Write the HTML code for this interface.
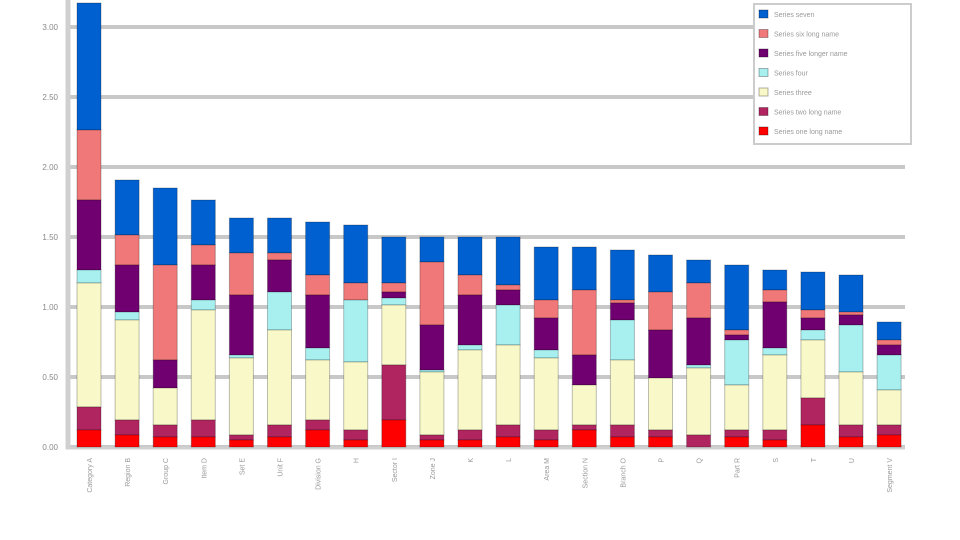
<!DOCTYPE html>
<html><head><meta charset="utf-8"><style>
html,body{margin:0;padding:0;background:#fff;width:960px;height:540px;overflow:hidden}
svg{display:block;font-family:"Liberation Sans",sans-serif}
</style></head><body>
<svg id="c" width="960" height="540" xmlns="http://www.w3.org/2000/svg"></svg>
<script>
var s=document.getElementById('c'),h='';
var base=447,top0=27;
var labs=['0.00','0.50','1.00','1.50','2.00','2.50','3.00'];
for(var i=0;i<7;i++){var y=base-i*(base-top0)/6;
 h+='<line x1="66" x2="905" y1="'+y+'" y2="'+y+'" stroke="#c8c8c8" stroke-width="4"/>';
 h+='<text x="58" y="'+(y+3)+'" font-size="8" fill="#888" text-anchor="end">'+labs[i]+'</text>';}
h+='<line x1="68" x2="68" y1="0" y2="'+(base+2)+'" stroke="#d0d0d0" stroke-width="5"/>';
h+='<line x1="66" x2="905" y1="'+(base+1)+'" y2="'+(base+1)+'" stroke="#d0d0d0" stroke-width="3"/>';
var cols=['#0060d0','#f07878','#700070','#a8f0f0','#f8f8c8','#b0245f','#ff0000'];
var D=[
[3,130,200,270,283,407,430],
[180,235,265,312,320,420,435],[188,265,360,388,388,425,437],[200,245,265,300,310,420,437],
[218,253,295,355,358,435,440],[218,253,260,292,330,425,437],[222,275,295,348,360,420,430],
[225,283,300,300,362,430,440],[237,283,292,298,305,365,420],[237,262,325,370,372,435,440],
[237,275,295,345,350,430,440],[237,285,290,305,345,425,437],[247,300,318,350,358,430,440],
[247,290,355,385,385,425,430],[250,300,303,320,360,425,437],[255,292,330,378,378,430,437],
[260,283,318,365,368,435,447],[265,330,335,340,385,430,437],[270,290,302,348,355,430,440],
[272,310,318,330,340,398,425],[275,312,315,325,372,425,437],[322,340,345,355,390,425,435]];
var names=['Category A','Region B','Group C','Item D','Set E','Unit F','Division G','H','Sector I','Zone J','K','L','Area M','Section N','Branch O','P','Q','Part R','S','T','U','Segment V'];
for(var b=0;b<22;b++){var x=77+b*38.1,d=D[b].slice();
 d.push(base);
 for(var k=0;k<7;k++){var y1=d[k],y2=d[k+1];if(y2-y1<=0)continue;
  h+='<rect x="'+x+'" y="'+y1+'" width="24" height="'+(y2-y1)+'" fill="'+cols[k]+'" stroke="rgba(0,0,0,0.25)" stroke-width="1"/>';}
 h+='<text transform="translate('+(x+15)+',458) rotate(-90)" font-size="7" fill="#999" text-anchor="end">'+names[b]+'</text>';
}
h+='<rect x="754" y="4" width="157" height="140" fill="#fff" stroke="#ccc" stroke-width="2"/>';
var ln=['Series seven','Series six long name','Series five longer name','Series four','Series three','Series two long name','Series one long name'];
for(var i=0;i<7;i++){var y=10+i*19.5;
 h+='<rect x="759" y="'+y+'" width="9" height="8" fill="'+cols[i]+'" stroke="rgba(0,0,0,0.3)"/>';
 h+='<text x="774" y="'+(y+7)+'" font-size="7" fill="#999">'+ln[i]+'</text>';}
s.innerHTML=h;
</script>
</body></html>
